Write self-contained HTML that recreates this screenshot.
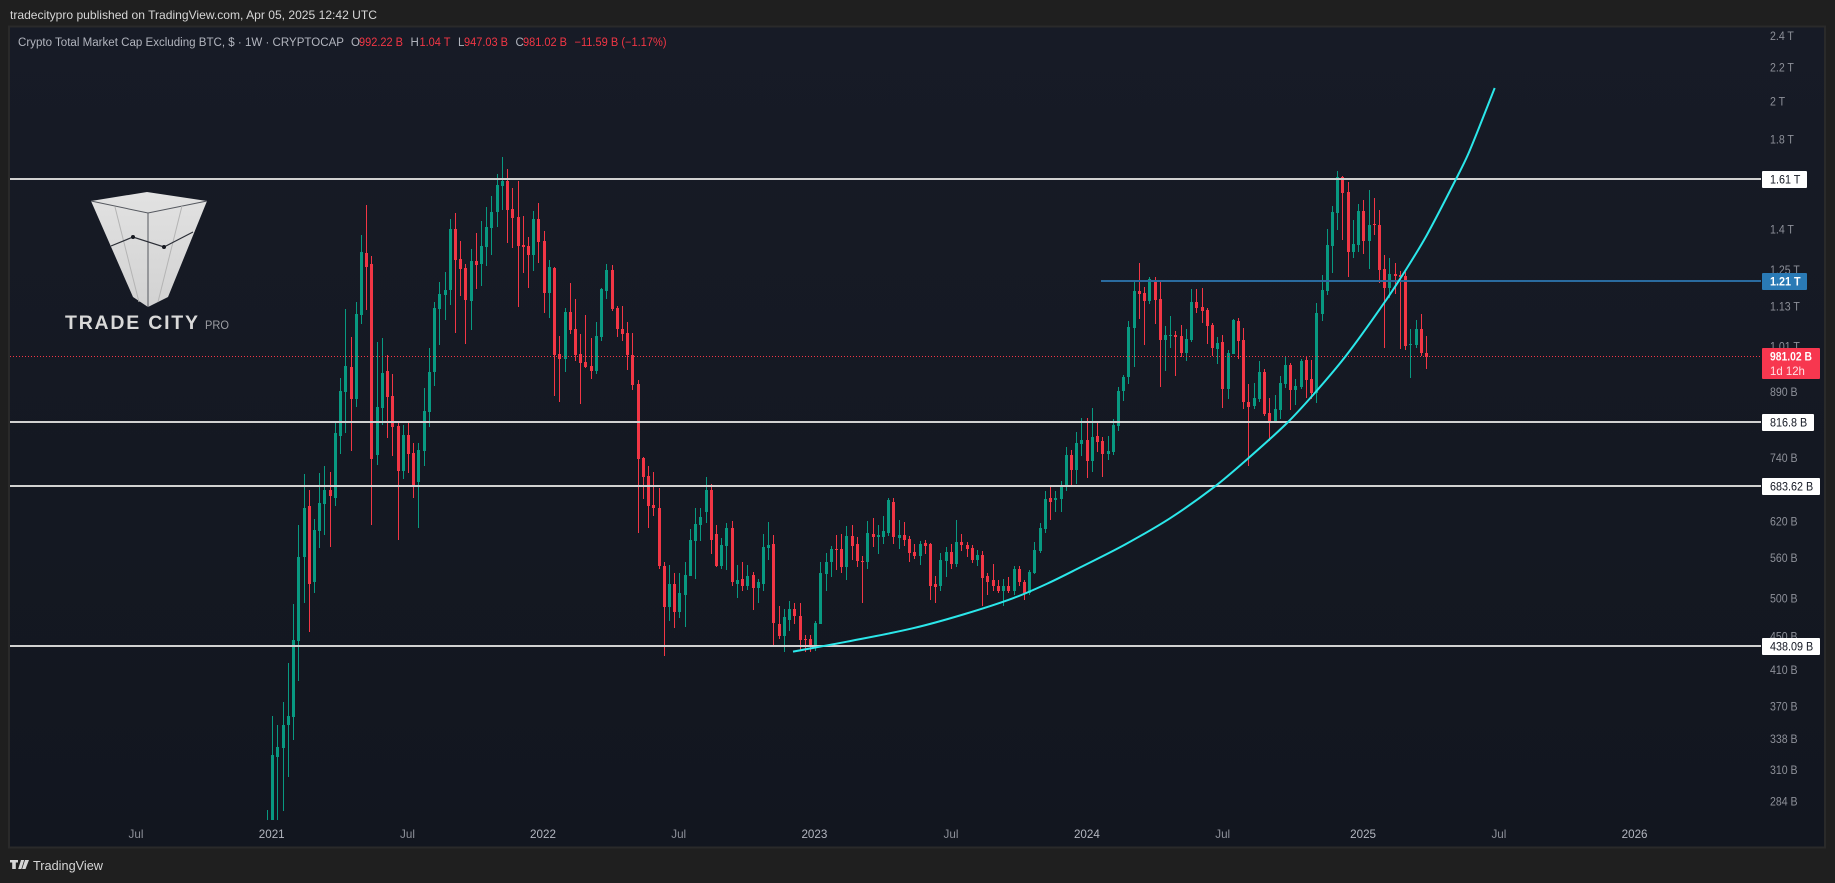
<!DOCTYPE html>
<html lang="en">
<head>
<meta charset="utf-8">
<title>Crypto Total Market Cap Excluding BTC</title>
<style>
html,body{margin:0;padding:0;background:#1f1f1f;width:1835px;height:883px;overflow:hidden}
svg{display:block;font-family:"Liberation Sans",sans-serif}
</style>
</head>
<body>
<svg id="chart" xmlns="http://www.w3.org/2000/svg" width="1835" height="883" viewBox="0 0 1835 883">
<defs>
<linearGradient id="paneBg" x1="0" y1="0" x2="0" y2="1"><stop offset="0" stop-color="#171b26"/><stop offset="1" stop-color="#12161f"/></linearGradient>
<linearGradient id="logoBg" x1="0" y1="0" x2="0" y2="1"><stop offset="0" stop-color="#e2e2e2"/><stop offset="1" stop-color="#d2d2d2"/></linearGradient>
<clipPath id="paneClip"><rect x="10" y="27" width="1751" height="793"/></clipPath>
</defs>
<rect width="1835" height="883" fill="#1f1f1f"/>
<text x="10" y="19" font-size="12" fill="#d6d6d6" textLength="367" lengthAdjust="spacingAndGlyphs">tradecitypro published on TradingView.com, Apr 05, 2025 12:42 UTC</text>
<rect x="9" y="26.5" width="1816" height="821" fill="url(#paneBg)" stroke="#2a2a2a" stroke-width="2"/>

<g id="xTicks"></g>
<g id="yTicks"></g>
<g id="candles" clip-path="url(#paneClip)" shape-rendering="crispEdges"></g>

<g>
<polygon points="147,192 207,201 168,297 148,307 133,297 91,201" fill="url(#logoBg)"/>
<polyline points="91,201 148,213 207,201" fill="none" stroke="#55585f" stroke-width="1"/>
<line x1="148" y1="213" x2="148" y2="307" stroke="#55585f" stroke-width="1"/>
<line x1="115" y1="207" x2="139" y2="302" stroke="#b4b4b4" stroke-width="1"/>
<line x1="182" y1="206" x2="158" y2="302" stroke="#b4b4b4" stroke-width="1"/>
<polyline points="111,246 133,237 164,247 193,232" fill="none" stroke="#2b2e36" stroke-width="1.2"/>
<circle cx="133" cy="237" r="2" fill="#15181f"/>
<circle cx="164" cy="247" r="2" fill="#15181f"/>
<text x="65" y="329" font-size="19.5" font-weight="bold" fill="#d9d9d9" textLength="133" lengthAdjust="spacing">TRADE CITY</text>
<text x="205" y="329" font-size="12" fill="#9b9da3" textLength="24" lengthAdjust="spacingAndGlyphs">PRO</text>
</g>

<g id="levels" shape-rendering="crispEdges"></g>
<path id="curve" fill="none" stroke="#2be7ea" stroke-width="2"/>
<g id="levelLabels"></g>

<g font-size="11.5">
<text x="18" y="46" fill="#b2b5be" textLength="326" lengthAdjust="spacingAndGlyphs">Crypto Total Market Cap Excluding BTC, $ · 1W · CRYPTOCAP</text>
<text x="351" y="46" fill="#b2b5be">O</text>
<text x="359" y="46" fill="#f23645" textLength="44" lengthAdjust="spacingAndGlyphs">992.22 B</text>
<text x="410.5" y="46" fill="#b2b5be">H</text>
<text x="419.5" y="46" fill="#f23645" textLength="31" lengthAdjust="spacingAndGlyphs">1.04 T</text>
<text x="458" y="46" fill="#b2b5be">L</text>
<text x="464" y="46" fill="#f23645" textLength="44" lengthAdjust="spacingAndGlyphs">947.03 B</text>
<text x="515.5" y="46" fill="#b2b5be">C</text>
<text x="523" y="46" fill="#f23645" textLength="44" lengthAdjust="spacingAndGlyphs">981.02 B</text>
<text x="574.5" y="46" fill="#f23645" textLength="92" lengthAdjust="spacingAndGlyphs">−11.59 B (−1.17%)</text>
</g>

<g>
<path d="M10 860h8v2.5h-2.2v6.5h-3.6v-6.5H10zM21 860h3.2l-2.8 9h-3.2zM25 860h4l-3.5 9h-3.4z" fill="#d6d6d6"/>
<text x="33" y="870" font-size="13" fill="#d6d6d6" textLength="70" lengthAdjust="spacingAndGlyphs">TradingView</text>
</g>
</svg>
<script>
const opens=[262,258,321,329,351,359,444,561,646,523,
603,650,676,662,786,889,953,871,1103,1310,
1270,745,850,942,879,808,713,788,750,691,
754,840,940,1121,1165,1182,1401,1289,1256,1146,
1281,1271,1332,1405,1469,1580,1602,1481,1448,1340,
1336,1303,1440,1354,1172,1256,988,975,1112,1060,
988,966,955,942,1037,1179,1249,1124,1060,1048,
985,909,739,703,648,644,547,488,520,481,
505,532,586,613,636,676,598,547,578,608,
521,527,517,533,514,521,575,582,466,450,
471,485,476,446,446,435,466,535,553,574,
574,545,595,582,555,553,598,593,593,600,
655,591,596,590,569,562,584,582,521,517,
555,569,550,585,580,575,556,564,532,526,
518,511,517,510,543,524,507,536,570,607,
661,657,659,682,745,715,769,777,733,786,
775,748,752,808,892,927,1063,1179,1172,1146,
1215,1152,1028,1040,1042,1040,991,1028,1143,1127,
1118,1072,1002,1022,896,988,1084,1028,864,855,
871,940,838,817,845,909,958,894,901,972,
921,886,1106,1179,1336,1465,1619,1553,1314,1340,
1473,1354,1420,1416,1253,1189,1236,1232,1229,1013,
1013,1060,992];
const highs=[277,360,351,375,417,492,613,707,676,624,
709,723,711,815,924,1121,1037,1143,1377,1498,
1299,1022,1034,985,935,817,810,819,771,771,
899,1005,1143,1208,1242,1440,1465,1354,1271,1325,
1385,1432,1489,1536,1632,1712,1656,1571,1602,1452,
1370,1473,1506,1393,1285,1260,1040,1124,1205,1152,
1045,1103,1034,1081,1189,1271,1267,1130,1130,1081,
1048,919,741,723,711,680,553,548,536,536,
553,607,643,643,701,687,613,591,617,620,
548,553,548,538,527,598,618,596,490,486,
496,494,494,452,452,470,553,567,578,596,
598,612,613,593,562,620,625,613,629,662,
661,622,618,595,582,587,588,584,532,567,
577,582,622,598,585,580,572,570,536,550,
526,527,530,547,547,526,541,585,617,674,
684,674,693,762,756,795,827,827,850,817,
783,786,824,901,932,1084,1212,1274,1192,1225,
1225,1215,1069,1100,1054,1072,1060,1185,1185,1189,
1124,1078,1037,1042,999,1090,1093,1063,909,911,
969,948,874,881,930,983,964,921,975,983,
972,1140,1232,1401,1494,1647,1624,1597,1436,1502,
1519,1562,1528,1477,1303,1292,1274,1246,1242,1060,
1087,1106,1040];
const lows=[262,258,265,276,304,337,397,494,455,507,
575,597,577,646,748,792,754,852,1075,1118,
613,725,810,781,743,588,697,709,662,608,
723,806,904,1013,1087,1133,1048,1162,1016,1057,
1185,1195,1263,1303,1409,1477,1347,1328,1127,1239,
1189,1246,1274,1109,1093,879,864,940,1045,969,
859,950,921,935,1025,1152,1115,1037,1025,945,
894,600,659,608,629,543,426,469,460,473,
462,532,527,586,617,566,545,543,541,518,
500,510,512,484,493,510,556,437,447,430,
456,466,432,430,430,432,465,511,530,541,
536,526,556,545,494,543,577,566,582,595,
582,574,578,553,558,548,566,498,494,511,
530,543,545,570,561,552,547,489,505,510,
507,489,508,505,518,497,505,535,567,600,
622,636,636,674,684,687,743,699,711,752,
701,735,745,797,867,909,953,1090,1013,1137,
1075,901,942,1005,930,980,969,1022,1109,1078,
1016,983,961,850,871,988,975,847,723,847,
864,831,775,815,824,899,845,857,896,874,
871,862,1084,1165,1239,1397,1358,1225,1292,1314,
1307,1253,1377,1205,1005,1155,1169,1002,999,924,
1005,983,947];
const closes=[266,323,330,351,360,445,561,644,521,605,
652,676,665,792,892,955,871,1106,1314,1260,
737,852,937,876,806,713,788,748,686,756,
843,940,1124,1169,1182,1401,1285,1253,1149,1281,
1267,1336,1409,1469,1584,1602,1477,1444,1336,1332,
1303,1440,1351,1172,1260,985,975,1112,1057,985,
964,953,942,1040,1185,1249,1121,1060,1045,985,
906,737,701,646,643,547,488,520,481,507,
533,588,615,627,676,588,547,580,608,523,
526,517,532,514,523,577,580,467,450,474,
485,476,445,445,436,467,536,553,574,572,
545,595,578,555,553,600,593,596,603,657,
593,596,588,567,562,582,578,518,516,556,
569,550,585,580,574,556,564,529,524,517,
511,517,510,543,523,507,538,572,608,659,
655,661,684,745,715,771,777,733,783,773,
748,754,810,892,927,1066,1179,1169,1146,1218,
1149,1028,1042,1042,1037,991,1031,1143,1124,1115,
1069,1005,1019,896,991,1087,1025,864,852,874,
940,836,817,847,911,958,894,904,969,919,
886,1109,1182,1340,1469,1619,1549,1314,1343,1473,
1354,1416,1416,1249,1189,1236,1229,1225,1010,1016,
1060,991,981];

const priceTickValues=[2400,2200,2000,1800,1400,1250,1130,1010,890,740,620,560,500,450,410,370,338,310,284];
const priceTickLabels=["2.4 T","2.2 T","2 T","1.8 T","1.4 T","1.25 T","1.13 T","1.01 T","890 B","740 B","620 B","560 B","500 B","450 B","410 B","370 B","338 B","310 B","284 B"];
const timeTickWeeks=[-25.15,0.84,26.85,52.8,78.8,104.8,130.96,157,183,209.9,235.9,261.9];
const timeTickLabels=["Jul","2021","Jul","2022","Jul","2023","Jul","2024","Jul","2025","Jul","2026"];
const levelValues=[1610,1210,816.8,683.62,438.09];
const levelLabelTexts=["1.61 T","1.21 T","816.8 B","683.62 B","438.09 B"];
const levelStartWeeks=[-60,159.7,-60,-60,-60];
const lastPrice=981.02;
const curveWeeks=[100.7,111,123.7,133.3,142.8,149.4,155.7,164.3,172.9,181.1,187.7,195.3,200.3,206.6,213.9,218.3,222.1,227.5,230.2,235.1];
const curveValues=[431,443,460,478,500,521,545,581,625,680,737,815,881.5,983,1139,1256,1377,1601,1736,2075];

const SVGNS="http://www.w3.org/2000/svg";
function xScale(week){return 267.3+5.2207*week;}
function yScale(v){return 179+358.6*Math.log(1610/v);}
function mk(tag,parent){const e=document.createElementNS(SVGNS,tag);parent.appendChild(e);return e;}
function squeeze(t,f){const l=t.getComputedTextLength();t.setAttribute('textLength',(l*f).toFixed(1));t.setAttribute('lengthAdjust','spacingAndGlyphs');}

const yG=document.getElementById('yTicks');
priceTickValues.forEach(function(v,i){
  const t=mk('text',yG);
  
  
  t.setAttribute('x',1770);
  t.setAttribute('y',(yScale(v)+4.3).toFixed(1));
  t.setAttribute('font-size',12);
  t.setAttribute('fill','#8d9099');
  t.textContent=priceTickLabels[i];
  squeeze(t,0.88);
});

const xG=document.getElementById('xTicks');
timeTickWeeks.forEach(function(w,i){
  const t=mk('text',xG);
  
  
  t.setAttribute('x',xScale(w).toFixed(1));
  t.setAttribute('y',838);
  t.setAttribute('font-size',12);
  t.setAttribute('text-anchor','middle');
  const isYear=timeTickLabels[i].length===4;
  t.setAttribute('fill',isYear?'#b2b5be':'#8d9099');
  t.textContent=timeTickLabels[i];
  squeeze(t,0.97);
});

const cG=document.getElementById('candles');
opens.forEach(function(o,i){
  const up=closes[i]>=o;
  const col=up?'#089981':'#f23645';
  const xc=Math.floor(xScale(i)+0.2);
  const yH=Math.round(yScale(highs[i]));
  const yL=Math.round(yScale(lows[i]));
  const yT=Math.round(yScale(Math.max(o,closes[i])));
  const yB=Math.round(yScale(Math.min(o,closes[i])));
  const g=mk('g',cG);
  
  
  g.setAttribute('fill',col);
  const wick=mk('rect',g);
  
  
  wick.setAttribute('x',xc);
  wick.setAttribute('y',yH);
  wick.setAttribute('width',1);
  wick.setAttribute('height',Math.max(1,yL-yH));
  const body=mk('rect',g);
  
  
  body.setAttribute('x',xc-1);
  body.setAttribute('y',yT);
  body.setAttribute('width',3);
  body.setAttribute('height',Math.max(1,yB-yT));
});

const lG=document.getElementById('levels');
const priceLine=mk('line',lG);


priceLine.setAttribute('x1',10);
priceLine.setAttribute('x2',1761);
priceLine.setAttribute('y1',Math.floor(yScale(lastPrice))+0.5);
priceLine.setAttribute('y2',Math.floor(yScale(lastPrice))+0.5);
priceLine.setAttribute('stroke','#f23645');
priceLine.setAttribute('stroke-width',1);
priceLine.setAttribute('stroke-dasharray','1 2');

const llG=document.getElementById('levelLabels');
levelValues.forEach(function(v,i){
  const blue=v===1210;
  const y=Math.round(yScale(v));
  const ln=mk('line',lG);
  
  
  ln.setAttribute('x1',Math.max(10,xScale(levelStartWeeks[i])));
  ln.setAttribute('x2',1761);
  ln.setAttribute('y1',y);
  ln.setAttribute('y2',y);
  ln.setAttribute('stroke',blue?'#2a6b9f':'#d1d1d1');
  ln.setAttribute('stroke-width',2);
  const w=levelLabelTexts[i].length>7?58:(levelLabelTexts[i].length>6?52:45);
  const box=mk('rect',llG);
  
  
  box.setAttribute('x',1762);
  box.setAttribute('y',y-8);
  box.setAttribute('width',w);
  box.setAttribute('height',17);
  box.setAttribute('rx',1);
  box.setAttribute('fill',blue?'#2a7ab5':'#ffffff');
  const t=mk('text',llG);
  
  
  t.setAttribute('x',1770);
  t.setAttribute('y',y+4.5);
  t.setAttribute('font-size',12);
  t.setAttribute('fill',blue?'#ffffff':'#131722');
  if(blue){t.setAttribute('font-weight','bold');}
  t.textContent=levelLabelTexts[i];
  squeeze(t,0.9);
});

const priceBox=mk('rect',llG);


priceBox.setAttribute('x',1762);
priceBox.setAttribute('y',348);
priceBox.setAttribute('width',58);
priceBox.setAttribute('height',31);
priceBox.setAttribute('rx',1);
priceBox.setAttribute('fill','#f7374f');
const priceText=mk('text',llG);


priceText.setAttribute('x',1770);
priceText.setAttribute('y',360.5);
priceText.setAttribute('font-size',12);
priceText.setAttribute('font-weight','bold');
priceText.setAttribute('fill','#ffffff');
priceText.textContent='981.02 B';
squeeze(priceText,0.86);
const cdText=mk('text',llG);


cdText.setAttribute('x',1770);
cdText.setAttribute('y',375);
cdText.setAttribute('font-size',12);
cdText.setAttribute('fill','#ffe0e4');
cdText.textContent='1d 12h';
squeeze(cdText,0.95);

const curvePts=curveWeeks.map(function(w,i){
  return [xScale(w),yScale(curveValues[i])];
});
function curveSlope(i){
  const a=curvePts[Math.max(0,i-1)];
  const b=curvePts[Math.min(curvePts.length-1,i+1)];
  return (b[1]-a[1])/(b[0]-a[0]);
}
let curveD='M'+curvePts[0][0].toFixed(1)+' '+curvePts[0][1].toFixed(1);
for(let i=0;i<curvePts.length-1;i++){
  const p1=curvePts[i];
  const p2=curvePts[i+1];
  const dx=(p2[0]-p1[0])/3;
  const c1x=p1[0]+dx;
  const c1y=p1[1]+curveSlope(i)*dx;
  const c2x=p2[0]-dx;
  const c2y=p2[1]-curveSlope(i+1)*dx;
  curveD+=' C'+c1x.toFixed(1)+' '+c1y.toFixed(1)+' '+c2x.toFixed(1)+' '+c2y.toFixed(1)+' '+p2[0].toFixed(1)+' '+p2[1].toFixed(1);
}
document.getElementById('curve').setAttribute('d',curveD);
</script>
</body>
</html>
